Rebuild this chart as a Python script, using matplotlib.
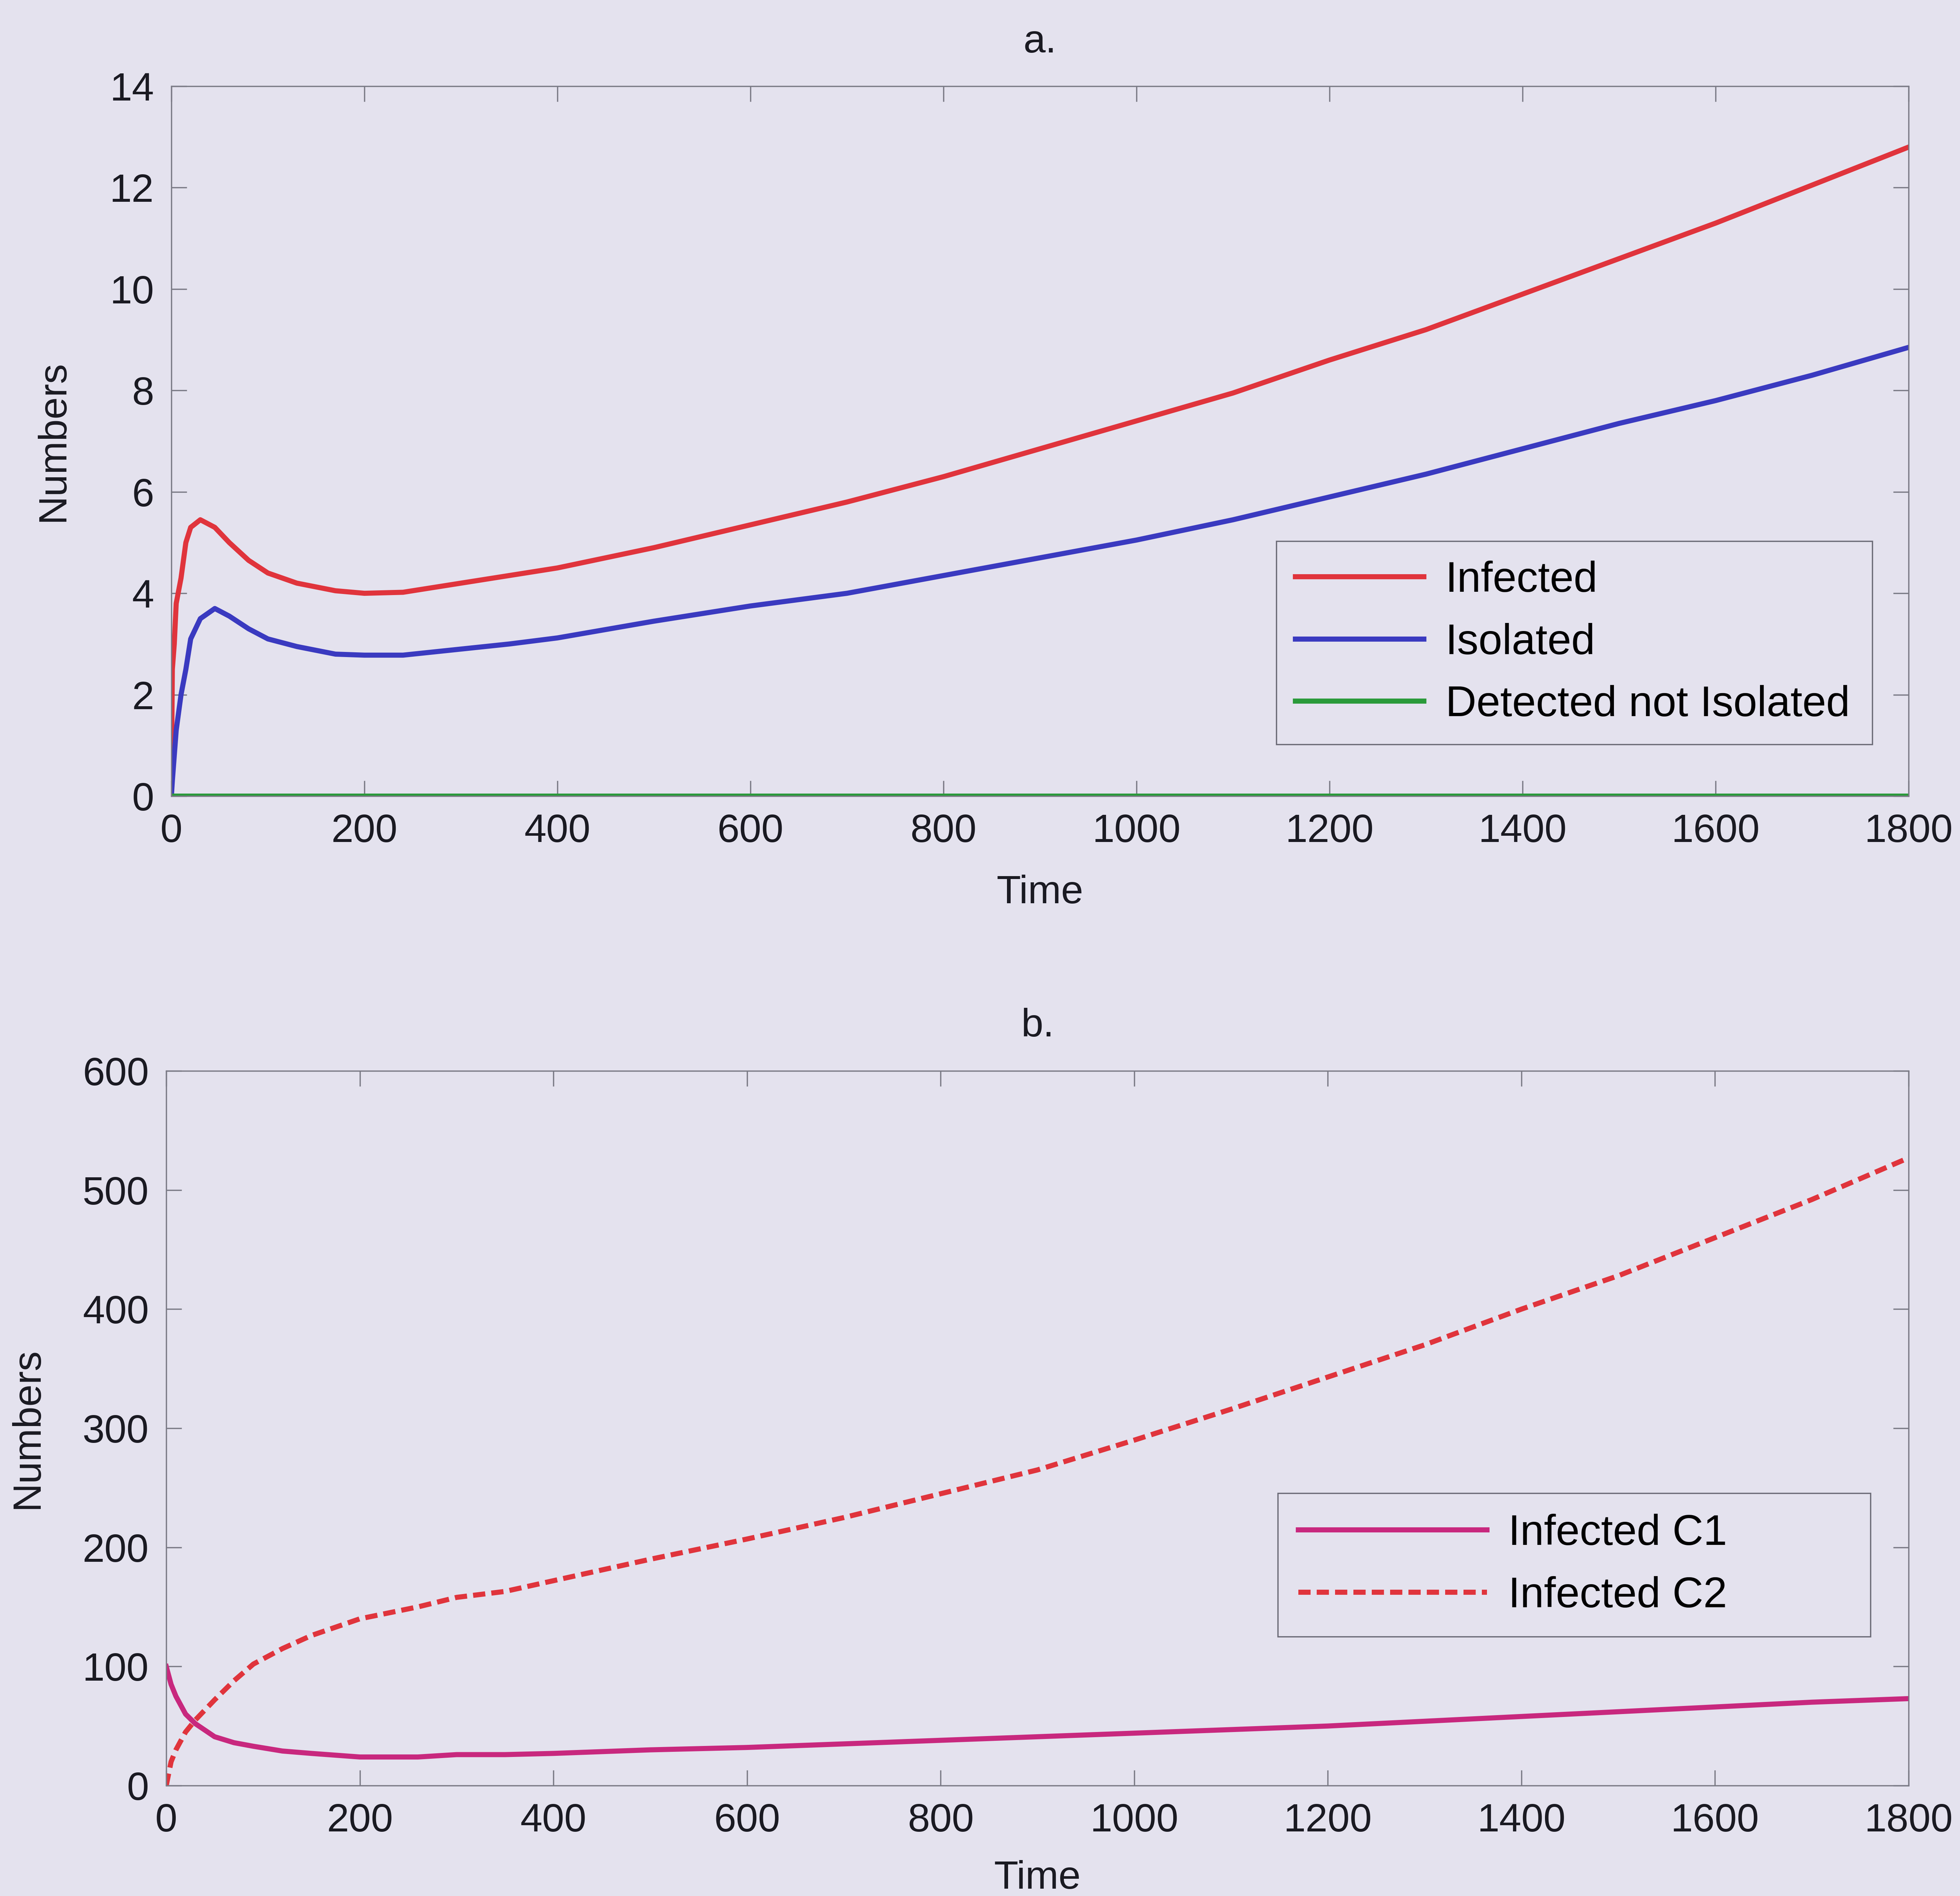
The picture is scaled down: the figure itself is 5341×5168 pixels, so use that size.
import matplotlib
matplotlib.use("Agg")
import matplotlib.pyplot as plt
import numpy as np

# ---- Panel a data ----
t_a = [0, 1, 3, 5, 10, 15, 20, 30, 45, 60, 80, 100, 130, 170, 200, 240, 300, 350, 400, 500, 600, 700, 800,
       900, 1000, 1100, 1200, 1300, 1400, 1500, 1600, 1700, 1800]
infected = [0.3, 2.5, 3.0, 3.8, 4.3, 5.0, 5.3, 5.45, 5.3, 5.0, 4.65, 4.4, 4.2, 4.05, 4.0, 4.02, 4.2, 4.35, 4.5,
            4.9, 5.35, 5.8, 6.3, 6.85, 7.4, 7.95, 8.6, 9.2, 9.9, 10.6, 11.3, 12.05, 12.8]
isolated = [0.0, 0.3, 0.8, 1.3, 2.0, 2.5, 3.1, 3.5, 3.7, 3.55, 3.3, 3.1, 2.95, 2.8, 2.78, 2.78, 2.9, 3.0, 3.12,
            3.45, 3.75, 4.0, 4.35, 4.7, 5.05, 5.45, 5.9, 6.35, 6.85, 7.35, 7.8, 8.3, 8.85]
detected = [0.0] * len(t_a)

# ---- Panel b data ----
t_b = [0, 5, 10, 20, 30, 50, 70, 90, 120, 150, 200, 260, 300, 350, 400, 500, 600, 700, 800, 900, 1000,
       1100, 1200, 1300, 1400, 1500, 1600, 1700, 1800]
c1 = [100, 85, 75, 60, 52, 41, 36, 33, 29, 27, 24, 24, 26, 26, 27, 30, 32, 35, 38, 41, 44, 47, 50, 54, 58, 62,
      66, 70, 73]
c2 = [0, 20, 30, 45, 55, 72, 88, 102, 115, 126, 140, 150, 158, 163, 172, 190, 207, 225, 245, 265, 290, 316,
      343, 370, 400, 428, 460, 492, 527]

x_ticks = list(range(0, 1801, 200))
ya_ticks = list(range(0, 15, 2))
yb_ticks = list(range(0, 601, 100))

bg = "#e4e2ee"
plt.rcParams['font.family'] = ['Liberation Sans', 'DejaVu Sans']

W, H = 5341, 5168
fig = plt.figure(figsize=(W / 100, H / 100), dpi=100, facecolor=bg)

def axrect(l, r, t, b):
    return [l / W, 1 - b / H, (r - l) / W, (b - t) / H]

ax1 = fig.add_axes(axrect(467, 5201, 235, 2170))
ax2 = fig.add_axes(axrect(453, 5201, 2919, 4867))

fs = 78
tc = "#1a1a22"
for ax in (ax1, ax2):
    ax.set_facecolor(bg)
    for s in ax.spines.values():
        s.set_color("#7a7a85")
        s.set_linewidth(2.5)
    ax.tick_params(direction='in', length=30, width=2.5, color="#7a7a85", labelsize=fs,
                   top=True, right=True, pad=34, labelcolor=tc)
    ax.set_xlim(0, 1800)
    ax.set_xticks(x_ticks)

lw = 10
ax1.plot(t_a, infected, color="#e0343c", lw=lw, label="Infected")
ax1.plot(t_a, isolated, color="#3a3ac0", lw=lw, label="Isolated")
ax1.plot(t_a, detected, color="#2a9a3a", lw=lw, label="Detected not Isolated")
ax1.set_ylim(0, 14)
ax1.set_yticks(ya_ticks)
ax1.set_xlabel("Time", fontsize=fs, labelpad=48, color=tc)
ax1.set_ylabel("Numbers", fontsize=fs, labelpad=75, color=tc)
ax1.set_title("a.", fontsize=fs, pad=66, color=tc)
leg1 = ax1.legend(loc="upper left", bbox_to_anchor=(0.636, 0.077, 0.343, 0.282), mode="expand",
                  borderaxespad=0, fontsize=84, frameon=True,
                  fancybox=False, edgecolor="#6a6a75", facecolor=bg, framealpha=1,
                  handlelength=3.0, borderpad=0.45, labelspacing=0.52, handletextpad=0.5)
leg1.get_frame().set_linewidth(2.5)

ax2.plot(t_b, c1, color="#c8287e", lw=lw, label="Infected C1")
ax2.plot(t_b, c2, color="#e0343c", lw=lw, ls=(0, (2.4, 1.2)), label="Infected C2")
ax2.set_ylim(0, 600)
ax2.set_yticks(yb_ticks)
ax2.set_xlabel("Time", fontsize=fs, labelpad=40, color=tc)
ax2.set_ylabel("Numbers", fontsize=fs, labelpad=72, color=tc)
ax2.set_title("b.", fontsize=fs, pad=68, color=tc)
leg2 = ax2.legend(loc="upper left", bbox_to_anchor=(0.638, 0.213, 0.340, 0.196), mode="expand",
                  borderaxespad=0, fontsize=84, frameon=True,
                  fancybox=False, edgecolor="#6a6a75", facecolor=bg, framealpha=1,
                  handlelength=4.4, borderpad=0.48, labelspacing=0.52, handletextpad=0.5)
leg2.get_frame().set_linewidth(2.5)

fig.savefig("out.png", dpi=100, facecolor=bg)
